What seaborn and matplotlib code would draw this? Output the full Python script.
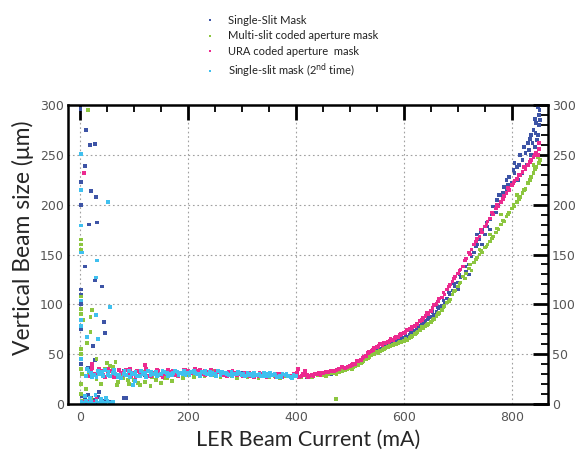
import numpy as np
import pandas as pd
import matplotlib
matplotlib.use("Agg")
import matplotlib.pyplot as plt
import seaborn as sns
from matplotlib.ticker import MultipleLocator

# ---------------- data ----------------
series_names = ["Single-Slit Mask",
                "Multi-slit coded aperture mask",
                "URA coded aperture  mask",
                "Single-slit mask (2$^{\\rm nd}$ time)"]
colors = ["#3d54a6", "#8cc63f", "#ec2a8f", "#3fc0ef"]

# Single-slit mask (blue)
blue_x = [0, 10, 18, 27, 8, 1, 20, 29, 16, 31, 8, 27, 40, 44, 46, 23, 1, 1, 1, 1, 1, 1, 1,
          3, 8, 14, 20, 27, 33, 40, 48, 55, 84, 30, 15, 14, 27, 34, 81,
          20, 40, 60, 80, 100, 120, 140, 160, 180, 200, 220, 240, 260, 280, 300, 320, 340,
          360, 380, 400, 420, 440,
          450, 460, 470, 480, 490, 500, 510, 520, 530, 540, 550, 560, 570, 580, 590, 600,
          610, 620, 630, 640, 650, 660, 670, 680, 690, 700, 710, 720, 730, 740, 750, 760,
          770, 780, 790, 800, 810, 820, 830, 840, 850,
          455, 465, 475, 485, 495, 505, 515, 525, 535, 545, 555, 565, 575, 585, 595, 605,
          615, 625, 635, 645, 655, 665, 675, 685, 695, 705, 715, 725, 735, 745, 755, 765,
          775, 785, 795, 805, 815, 825, 835, 845,
          848, 850, 846, 843, 849, 851, 838, 832, 828, 820, 812, 805, 790, 775, 760, 745,
          735, 720, 700, 852, 844, 836]
blue_y = [296, 275, 260, 261, 239, 223, 214, 208, 180, 182, 138, 124, 118, 82, 71, 58, 200, 110, 115, 100, 75, 55, 40,
          8, 5, 9, 6, 4, 7, 3, 5, 2, 6, 2, 2, 36, 44, 12, 6,
          35, 31, 28, 33, 30, 29, 31, 30, 32, 31, 30, 32, 30, 29, 31, 28, 30,
          29, 28, 30, 27, 29,
          30, 31, 32, 34, 36, 38, 40, 43, 47, 51, 54, 57, 59, 61, 64, 66,
          69, 73, 78, 83, 87, 92, 98, 106, 114, 122, 128, 140, 152, 165, 170, 185,
          192, 210, 215, 222, 238, 245, 262, 275, 290,
          31, 30, 33, 35, 37, 39, 41, 45, 49, 53, 55, 58, 60, 63, 65, 67,
          71, 75, 80, 85, 89, 96, 102, 110, 118, 127, 133, 148, 160, 175, 178, 198,
          200, 218, 228, 232, 250, 252, 270, 282,
          298, 280, 265, 258, 270, 295, 262, 255, 240, 232, 225, 242, 225, 210, 175, 160,
          170, 130, 115, 285, 272, 250]
blue_x3 = [503, 513, 523, 533, 543, 553, 563, 573, 583, 593, 603, 613, 623, 633, 643, 653,
           663, 673, 683, 693, 703, 713, 723, 733, 743, 753, 763, 773, 783, 793, 803, 813,
           823, 833, 843]
blue_y3 = [37, 41, 44, 48, 52, 56, 58, 61, 62, 65, 70, 72, 77, 80, 88, 92,
           97, 104, 112, 121, 130, 138, 150, 158, 172, 182, 190, 205, 212, 220, 235, 240,
           258, 266, 286]

# Multi-slit coded aperture mask (green)
green_x = [14, 1, 1, 1, 1, 1, 1, 21, 19, 6, 19, 12, 1, 1, 1, 1, 1, 1, 5, 12, 20, 30, 40, 3,
           10, 38, 49, 55, 60, 65, 50, 30, 474,
           15, 30, 45, 60, 70, 80, 90, 100, 110, 120, 130, 140, 150, 160, 170, 180, 190,
           200, 210, 220, 230, 240, 250, 260, 270, 280, 290, 300, 310, 320, 330, 340, 350,
           360, 370, 380, 390, 400, 410, 420, 430, 440,
           75, 120, 160, 200, 250, 300, 88, 107, 133, 157, 68,
           450, 460, 470, 480, 490, 500, 510, 520, 530, 540, 550, 560, 570, 580, 590, 600,
           610, 620, 630, 640, 650, 660, 670, 680, 690, 700, 710, 720, 730, 740, 750, 760,
           770, 780, 790, 800, 810, 820, 830, 840, 850,
           455, 465, 475, 485, 495, 505, 515, 525, 535, 545, 555, 565, 575, 585, 595, 605,
           615, 625, 635, 645, 655, 665, 675, 685, 695, 705, 715, 725, 735, 745, 755, 765,
           775, 785, 795, 805, 815, 825, 835, 845,
           848, 852, 840, 810, 780, 760, 740]
green_y = [295, 160, 165, 155, 108, 95, 90, 94, 87, 84, 72, 61, 55, 50, 45, 35, 20, 10, 3, 2, 5, 3, 1, 30,
           15, 20, 41, 38, 37, 42, 33, 45, 5,
           30, 25, 35, 37, 22, 26, 20, 24, 19, 22, 18, 24, 21, 26, 23, 28, 26,
           29, 27, 30, 28, 31, 29, 27, 30, 28, 26, 29, 27, 28, 26, 29, 27,
           28, 26, 28, 27, 29, 27, 28, 27, 29,
           30, 32, 30, 31, 33, 30, 24, 21, 27, 26, 19,
           29, 30, 31, 32, 34, 36, 38, 41, 45, 49, 52, 54, 57, 59, 61, 63,
           66, 70, 74, 78, 82, 88, 94, 102, 110, 118, 128, 136, 142, 150, 157, 163,
           172, 180, 188, 196, 203, 212, 222, 232, 242,
           28, 31, 30, 33, 35, 37, 39, 43, 47, 50, 53, 56, 58, 60, 62, 64,
           68, 72, 76, 80, 85, 91, 98, 105, 114, 122, 131, 134, 147, 152, 160, 168,
           175, 183, 192, 198, 208, 216, 228, 238,
           248, 245, 240, 210, 190, 170, 155]
green_x3 = [503, 513, 523, 533, 543, 553, 563, 573, 583, 593, 603, 613, 623, 633, 643, 653,
            663, 673, 683, 693, 703, 713, 723, 733, 743, 753, 763, 773, 783, 793, 803, 813,
            823, 833, 843]
green_y3 = [35, 40, 42, 46, 50, 51, 55, 58, 60, 62, 65, 67, 71, 77, 79, 84,
            90, 97, 103, 113, 121, 126, 140, 145, 154, 158, 166, 176, 184, 190, 200, 206,
            215, 225, 236]

# URA coded aperture mask (pink)
pink_x = [7, 12, 18, 15, 25, 30, 120, 22, 404, 416, 8, 850, 848,
          20, 30, 40, 50, 60, 70, 80, 90, 100, 110, 120, 130, 140, 150, 160, 170, 180, 190,
          200, 210, 220, 230, 240, 250, 260, 270, 280, 290, 300, 310, 320, 330, 340, 350,
          360, 370, 380, 390, 400, 410, 420, 430, 440, 450, 460, 470, 480, 490, 500, 510,
          520, 530, 540, 550, 560, 570, 580, 590, 600, 610, 620, 630, 640, 650, 660, 670,
          680, 690, 700, 710, 720, 730, 740, 750, 760, 770, 780, 790, 800, 810, 820, 830,
          840, 850,
          25, 35, 45, 55, 65, 75, 85, 95, 105, 115, 125, 135, 145, 155, 165, 175, 185, 195,
          205, 215, 225, 235, 245, 255, 265, 275, 285, 295, 305, 315, 325, 335, 345, 355,
          365, 375, 385, 395, 405, 415, 425, 435, 445, 455, 465, 475, 485, 495, 505, 515,
          525, 535, 545, 555, 565, 575, 585, 595, 605, 615, 625, 635, 645, 655, 665, 675,
          685, 695, 705, 715, 725, 735, 745, 755, 765, 775, 785, 795, 805, 815, 825, 835, 845]
pink_y = [232, 35, 28, 3, 2, 5, 39, 40, 35, 33, 2, 262, 250,
          32, 28, 33, 30, 31, 29, 32, 30, 31, 29, 30, 32, 30, 29, 31, 30, 32, 31,
          33, 32, 31, 33, 32, 31, 30, 31, 30, 29, 30, 29, 30, 28, 29, 28,
          29, 28, 29, 28, 29, 28, 29, 29, 30, 31, 32, 33, 35, 36, 38, 40,
          44, 48, 53, 57, 59, 62, 64, 67, 71, 75, 78, 83, 88, 93, 100, 107,
          115, 123, 131, 138, 152, 160, 168, 178, 186, 196, 203, 212, 220, 226, 233, 240,
          248, 256,
          30, 35, 27, 33, 28, 31, 34, 28, 33, 31, 28, 31, 33, 30, 32, 29, 31, 34,
          31, 33, 30, 32, 30, 32, 29, 32, 31, 30, 31, 28, 29, 30, 27, 29,
          30, 27, 28, 30, 27, 29, 28, 30, 29, 32, 33, 34, 37, 37, 40, 43,
          47, 52, 56, 60, 61, 65, 67, 70, 74, 77, 80, 86, 90, 99, 106, 110,
          120, 128, 135, 146, 155, 166, 172, 183, 190, 198, 209, 215, 224, 230, 236, 245, 252]
pink_x3 = [22, 32, 42, 52, 62, 72, 82, 92, 102, 112, 122, 132, 142, 152, 162, 172, 182,
           192, 202, 212, 222, 232, 242, 252, 262, 272, 282, 292, 302, 312, 322, 332, 342,
           352, 362, 372, 382, 392, 402, 412, 422, 432, 442,
           503, 513, 523, 533, 543, 553, 563, 573, 583, 593, 603, 613, 623, 633, 643, 653,
           663, 673, 683, 693, 703, 713, 723, 733, 743, 753, 763, 773, 783, 793, 803, 813,
           823, 833, 843]
pink_y3 = [36, 31, 29, 35, 27, 34, 29, 35, 27, 33, 35, 28, 34, 27, 34, 33, 28,
           34, 30, 35, 34, 29, 34, 33, 32, 28, 33, 32, 28, 31, 27, 31, 30,
           30, 27, 30, 30, 27, 31, 30, 27, 28, 31,
           39, 43, 46, 51, 54, 58, 61, 63, 66, 69, 72, 75, 80, 84, 91, 96,
           103, 112, 118, 126, 134, 144, 150, 163, 175, 180, 192, 200, 206, 217, 222, 230,
           238, 243, 250]

# Single-slit mask, 2nd time (cyan)
cyan_x = [1, 1, 51, 1, 1, 4, 31, 29, 55, 29, 12, 32, 1, 1, 1, 1,
          2, 5, 10, 15, 20, 25, 30, 35, 40, 45, 50, 55, 60, 8, 18, 28, 48, 38, 101, 98,
          10, 20, 30, 40, 50, 60, 70, 80, 90, 100, 110, 120, 130, 140, 150, 160, 170, 180,
          190, 200, 210, 220, 230, 240, 250, 260, 270, 280, 290, 300, 310, 320, 330, 340,
          350, 360, 370, 380, 390, 400,
          15, 25, 35, 45, 55, 65, 75, 85, 95, 105, 115, 125, 135, 145, 155, 165, 175, 185,
          195, 205, 215, 225, 235, 245, 255, 265, 275, 285, 295, 305, 315, 325, 335, 345,
          355, 365, 375, 385, 395]
cyan_y = [251, 215, 203, 179, 152, 152, 144, 127, 97, 89, 67, 65, 104, 84, 78, 45,
          2, 1, 3, 1, 2, 0.5, 3, 1, 2, 1, 3, 1, 2, 8, 6, 9, 6, 5, 23, 19,
          28, 31, 27, 32, 29, 31, 27, 30, 33, 30, 28, 31, 29, 32, 30, 31, 29, 32,
          30, 31, 33, 30, 31, 32, 30, 29, 31, 32, 30, 29, 31, 28, 29, 31,
          28, 30, 28, 29, 27, 28,
          33, 29, 30, 34, 28, 30, 26, 29, 31, 28, 30, 33, 30, 29, 32, 30, 33, 31,
          29, 32, 30, 32, 30, 31, 33, 31, 29, 30, 31, 28, 30, 29, 28, 30,
          29, 27, 30, 28, 29]
cyan_x3 = [12, 22, 32, 42, 52, 62, 72, 82, 92, 102, 112, 122, 132, 142, 152, 162, 172,
           182, 192, 202, 212, 222, 232, 242, 252, 262, 272, 282, 292, 302, 312, 322, 332,
           342, 352, 362, 372, 382, 392]
cyan_y3 = [35, 27, 33, 28, 32, 34, 29, 33, 27, 32, 33, 27, 32, 28, 33, 28, 31,
           29, 33, 29, 31, 28, 33, 29, 28, 32, 30, 28, 32, 30, 29, 31, 30,
           28, 31, 29, 27, 30, 26]

x_major = [0, 200, 400, 600, 800]
y_major = [0, 50, 100, 150, 200, 250, 300]

# ---------------- build table ----------------
frames = []
for name, xs, ys in zip(series_names,
                        [blue_x + blue_x3, green_x + green_x3,
                         pink_x + pink_x3, cyan_x + cyan_x3],
                        [blue_y + blue_y3, green_y + green_y3,
                         pink_y + pink_y3, cyan_y + cyan_y3]):
    frames.append(pd.DataFrame({"current": xs, "size": ys, "series": name}))
df = pd.concat(frames, ignore_index=True)

# ---------------- plot ----------------
sns.set_style("white")
plt.rcParams["font.family"] = ["DejaVu Sans"]
plt.rcParams["mathtext.default"] = "regular"

fig = plt.figure(figsize=(5.79, 4.54), dpi=100)
ax = fig.add_axes([68 / 579, 50 / 454, 480 / 579, 299 / 454])

sns.scatterplot(data=df, x="current", y="size", hue="series",
                palette=dict(zip(series_names, colors)), hue_order=series_names,
                marker="s", s=7, linewidth=0, ax=ax, legend=True)

ax.set_xlim(-23, 867)
ax.set_ylim(0, 300)
ax.set_xticks(x_major)
ax.set_yticks(y_major)
ax.xaxis.set_minor_locator(MultipleLocator(50))
ax.yaxis.set_minor_locator(MultipleLocator(10))
ax.grid(True, which="major", linestyle=(0, (1.5, 2.5)), color="#a0a0a0", linewidth=0.8)
ax.set_axisbelow(True)

for sp in ax.spines.values():
    sp.set_linewidth(1.8)
    sp.set_color("black")

ax.tick_params(which="both", direction="in", top=True, right=True,
               labelright=True, labelsize=9, labelcolor="#555555", color="black")
ax.tick_params(which="major", length=11, width=2)
ax.tick_params(which="minor", length=5, width=1.3)
ax.tick_params(axis="x", which="major", pad=5)
ax.tick_params(axis="y", which="major", pad=3)

ax.set_xlabel("LER Beam Current (mA)", fontsize=15.5, family=["Lato", "DejaVu Sans"])
ax.set_ylabel("Vertical Beam size (\u03bcm)", fontsize=16.5, family=["Lato", "DejaVu Sans"])
ax.xaxis.set_label_coords(0.5, -0.088)
ax.yaxis.set_label_coords(-0.071, 0.555)

handles, labels = ax.get_legend_handles_labels()
leg = ax.legend(handles, labels, loc="upper left",
                bbox_to_anchor=(196 / 579, 1 - 5 / 454), bbox_transform=fig.transFigure,
                frameon=False, markerscale=0.7, handlelength=0.8,
                handletextpad=1.2, labelspacing=0.4,
                prop={"family": ["Lato", "DejaVu Sans"], "size": 8})
for t in leg.get_texts():
    t.set_color("#222222")

fig.savefig("out.png", dpi=100)
